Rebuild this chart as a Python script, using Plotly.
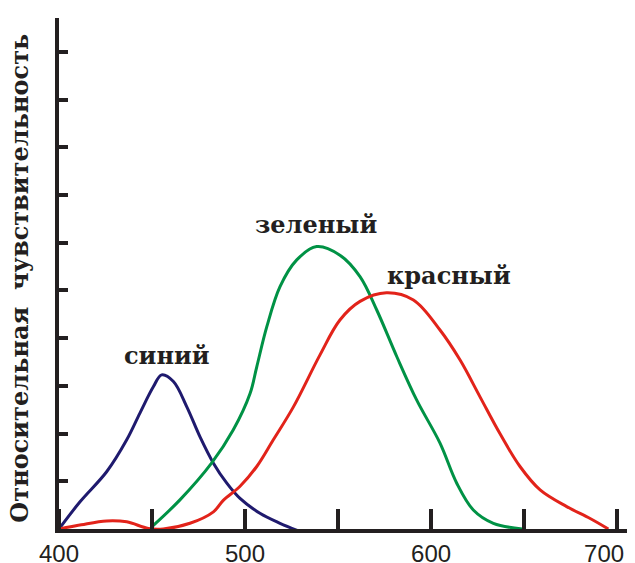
import plotly.graph_objects as go

# Wavelength (nm) and relative sensitivity
blue_nm = [400, 411.3, 425.6, 436.4, 443.5, 450.7, 455.2, 461.5, 468.7, 475.8, 483, 490.2, 497.3, 508, 518.8, 528.7]
blue_val = [0, 0.57, 1.20, 1.87, 2.43, 2.98, 3.23, 3.09, 2.56, 1.93, 1.38, 0.96, 0.64, 0.33, 0.12, -0.04]

green_nm = [450, 465, 482, 493.7, 502.7, 506.3, 511.7, 518.8, 527.8, 538.5, 551, 561.8, 570.8, 581.6, 592.3, 604.8, 613.8, 622.7, 633.5, 649]
green_val = [0.05, 0.61, 1.38, 2.08, 2.84, 3.40, 4.24, 5.08, 5.64, 5.92, 5.74, 5.29, 4.59, 3.61, 2.70, 1.80, 0.96, 0.40, 0.12, 0.0]

red_nm = [400, 412, 425.6, 436.4, 448, 456, 470.4, 483, 488.3, 497.2, 506.3, 515.2, 526, 540.3, 551, 561.8, 576, 590.5, 604.8, 615.6, 626.3, 637, 647.8, 658.6, 672.9, 685.5, 695.3]
red_val = [0, 0.09, 0.17, 0.15, 0.01, 0.0, 0.12, 0.36, 0.60, 0.89, 1.31, 1.87, 2.56, 3.65, 4.38, 4.77, 4.95, 4.80, 4.17, 3.54, 2.77, 2.00, 1.31, 0.82, 0.47, 0.22, 0.0]

curve_names = ["синий", "зеленый", "красный"]
label_nm = [457.8, 537.9, 609.7]
label_val = [3.63, 6.39, 5.32]

# tick marks every 50 nm; labels as placed in the picture (the last one sits a little left of its mark)
x_mark_vals = [400, 450, 500, 550, 600, 650, 700]
x_label_pos = [400, 500, 600, 693]
x_label_text = ["400", "500", "600", "700"]
y_tickvals = [1, 2, 3, 4, 5, 6, 7, 8, 9, 10]

y_title = "Относительная\u00a0\u00a0чувствительность"

ink = "#231f20"
label_font = dict(family="DejaVu Serif", size=24, color=ink)

fig = go.Figure()
fig.add_trace(go.Scatter(x=blue_nm, y=blue_val, mode="lines", line=dict(color="#1f1a6e", width=3, shape="spline")))
fig.add_trace(go.Scatter(x=green_nm, y=green_val, mode="lines", line=dict(color="#009245", width=3, shape="spline")))
fig.add_trace(go.Scatter(x=red_nm, y=red_val, mode="lines", line=dict(color="#e2231a", width=3, shape="spline")))

for name, xn, yv in zip(curve_names, label_nm, label_val):
    fig.add_annotation(x=xn, y=yv, text="<b>%s</b>" % name, showarrow=False,
                       font=label_font, xanchor="center", yanchor="middle")

fig.add_annotation(xref="paper", yref="paper", x=-0.068, y=0.49, text="<b>%s</b>" % y_title,
                   textangle=-90, showarrow=False, font=label_font, xanchor="center", yanchor="middle")

# the page body has an 8px margin, so the figure starts 8px in from the window's top-left
fig.update_layout(
    width=627, height=555,
    margin=dict(l=51, r=3, t=10, b=34),
    paper_bgcolor="white", plot_bgcolor="white",
    showlegend=False,
    xaxis=dict(range=[400, 708], showgrid=False, zeroline=False, showline=True, automargin=False,
               linecolor=ink, linewidth=4, ticks="",
               tickvals=x_label_pos, ticktext=x_label_text,
               ticklabeloverflow="allow",
               tickfont=dict(family="Liberation Sans", size=24, color=ink),
               minor=dict(tickvals=x_mark_vals, ticks="inside", ticklen=20, tickwidth=4,
                          tickcolor=ink, showgrid=False)),
    yaxis=dict(range=[0, 10.71], showgrid=False, zeroline=False, showline=True, automargin=False,
               linecolor=ink, linewidth=4, ticks="inside", ticklen=9, tickwidth=4,
               tickcolor=ink, tickvals=y_tickvals, showticklabels=False),
)

fig.write_html("out.html")
